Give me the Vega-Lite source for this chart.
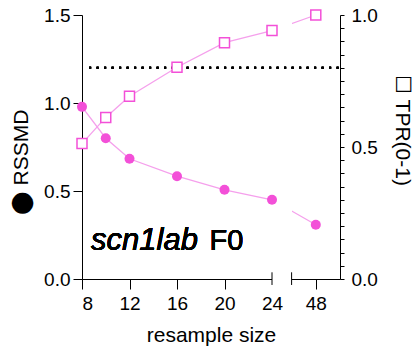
{
  "$schema": "https://vega.github.io/schema/vega-lite/v6.json",
  "width": 258,
  "height": 264,
  "autosize": {"type": "none"},
  "padding": {"left": 82, "top": 15, "right": 79, "bottom": 75},
  "background": "white",
  "config": {
    "view": {"stroke": null},
    "font": "Liberation Sans",
    "axis": {
      "domainColor": "black",
      "tickColor": "black",
      "labelColor": "black",
      "titleColor": "black",
      "labelFont": "Liberation Sans",
      "titleFont": "Liberation Sans",
      "labelFontSize": 19,
      "titleFontSize": 21,
      "titleFontWeight": "normal",
      "grid": false,
      "domainWidth": 1,
      "tickWidth": 1
    }
  },
  "data": {
    "values": [
      {"size": 8, "rssmd": 0.978, "tpr": 0.513},
      {"size": 10, "rssmd": 0.80, "tpr": 0.612},
      {"size": 12, "rssmd": 0.683, "tpr": 0.692},
      {"size": 16, "rssmd": 0.584, "tpr": 0.802},
      {"size": 20, "rssmd": 0.507, "tpr": 0.895},
      {"size": 24, "rssmd": 0.45, "tpr": 0.941},
      {"size": 48, "rssmd": 0.308, "tpr": 1.0}
    ]
  },
  "encoding": {
    "x": {
      "field": "size",
      "type": "quantitative",
      "scale": {"domain": [8, 24, 46, 50], "range": [0, 190, 209.6, 258], "nice": false, "zero": false},
      "axis": {
        "values": [8, 12, 16, 20, 24, 48],
        "title": "resample size",
        "tickSize": 10,
        "labelPadding": 5,
        "titlePadding": 11,
        "tickOpacity": {"condition": {"test": "datum.value == 24", "value": 0}, "value": 1}
      }
    }
  },
  "layer": [
    {
      "mark": {"type": "line", "color": "#f5a0ec", "strokeWidth": 1.3},
      "encoding": {
        "y": {
          "field": "tpr",
          "type": "quantitative",
          "scale": {"domain": [0, 1], "nice": false},
          "axis": null
        }
      }
    },
    {
      "layer": [
        {
          "mark": {"type": "line", "color": "#f5a0ec", "strokeWidth": 1.3},
          "encoding": {
            "y": {
              "field": "rssmd",
              "type": "quantitative",
              "scale": {"domain": [0, 1.5], "nice": false},
              "axis": {
                "values": [0, 0.5, 1, 1.5],
                "format": ".1f",
                "title": "⬤ RSSMD",
                "tickSize": 9,
                "labelPadding": 3,
                "titlePadding": 12,
                "titleY": 147
              }
            }
          }
        },
        {
          "mark": {"type": "rect", "color": "white", "opacity": 1},
          "encoding": {
            "x": {"datum": 24},
            "x2": {"datum": 46},
            "y": {"datum": -0.02},
            "y2": {"datum": 1.55}
          }
        },
        {
          "mark": {"type": "rule", "color": "black", "strokeWidth": 2, "strokeDash": [2, 5.5]},
          "encoding": {
            "x": {"datum": 8.6},
            "x2": {"datum": 50},
            "y": {"datum": 1.2}
          }
        },
        {
          "data": {"values": [{"b": 24}, {"b": 46}]},
          "mark": {"type": "rule", "color": "black", "strokeWidth": 1},
          "encoding": {
            "x": {"field": "b", "type": "quantitative"},
            "y": {"datum": -0.034},
            "y2": {"datum": 0.038}
          }
        },
        {
          "mark": {"type": "point", "shape": "circle", "filled": true, "color": "#f350d8", "opacity": 1, "size": 100},
          "encoding": {
            "y": {"field": "rssmd", "type": "quantitative"}
          }
        },
        {
          "mark": {"type": "text", "font": "Liberation Sans", "fontStyle": "italic", "fontSize": 31, "align": "left", "baseline": "alphabetic", "color": "black", "text": "scn1lab"},
          "encoding": {
            "x": {"datum": 8.76},
            "y": {"datum": 0.164}
          }
        },
        {
          "mark": {"type": "text", "font": "Liberation Sans", "fontSize": 29, "align": "left", "baseline": "alphabetic", "color": "black", "text": "F0"},
          "encoding": {
            "x": {"datum": 18.74},
            "y": {"datum": 0.164}
          }
        }
      ]
    },
    {
      "mark": {"type": "point", "shape": "square", "filled": true, "fill": "white", "stroke": "#f350d8", "strokeWidth": 1.5, "opacity": 1, "size": 100},
      "encoding": {
        "y": {
          "field": "tpr",
          "type": "quantitative",
          "scale": {"domain": [0, 1], "nice": false},
          "axis": {
            "orient": "right",
            "values": [0, 0.05, 0.1, 0.15, 0.2, 0.25, 0.3, 0.35, 0.4, 0.45, 0.5, 0.55, 0.6, 0.65, 0.7, 0.75, 0.8, 0.85, 0.9, 0.95, 1],
            "labelExpr": "(datum.value == 0 || datum.value == 0.5 || datum.value == 1) ? format(datum.value, '.1f') : ''",
            "title": "☐  TPR(0-1)",
            "tickSize": 4,
            "labelPadding": 7,
            "titlePadding": 14,
            "titleY": 115
          }
        }
      }
    }
  ],
  "resolve": {"scale": {"y": "independent"}}
}
